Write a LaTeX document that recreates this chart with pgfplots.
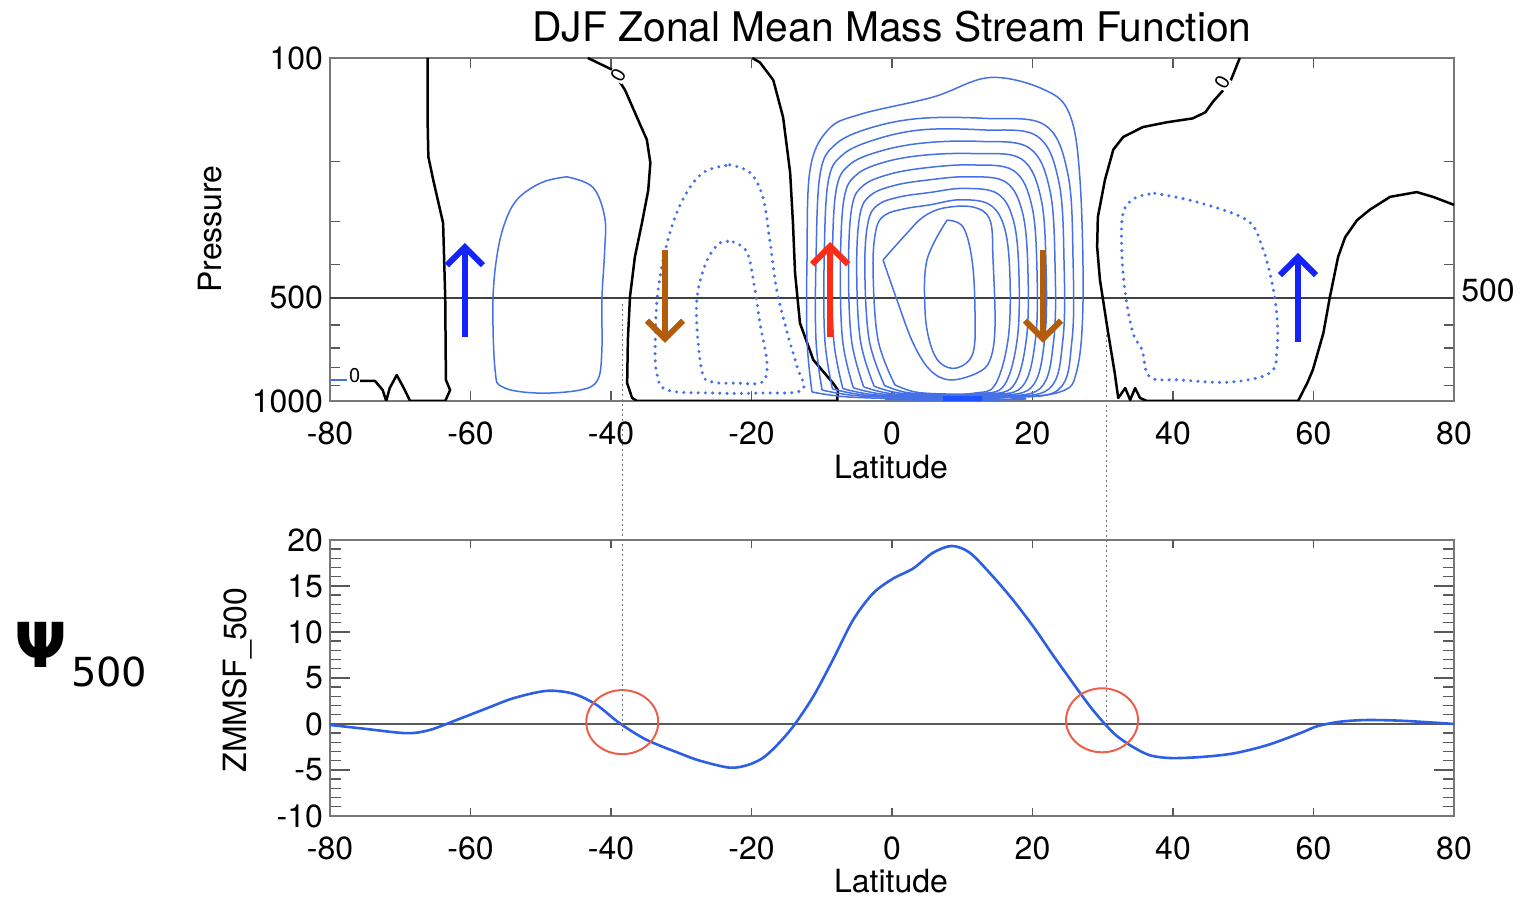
\documentclass[border=0pt]{standalone}
\usepackage{pgfplots}
\pgfplotsset{compat=1.18}
\usepackage{fontspec}
\setmainfont{TeX Gyre Heros}
\newfontfamily\psifont{DejaVu Sans}
\usetikzlibrary{arrows.meta}

\definecolor{cblue}{RGB}{70,112,230}
\definecolor{lblue}{RGB}{45,95,228}
\definecolor{blob}{RGB}{30,80,255}
\definecolor{arblue}{RGB}{20,35,250}
\definecolor{arred}{RGB}{250,45,25}
\definecolor{arbrown}{RGB}{178,92,12}
\definecolor{framegray}{RGB}{120,120,120}
\definecolor{circred}{RGB}{236,95,75}

\pgfplotsset{
  panel/.style={
    scale only axis, width=562pt,
    xmin=-80, xmax=80, xtick={-80,-60,...,80},
    tick align=inside,
    axis line style={framegray, line width=0.9pt},
    tick style={black!65, line width=0.7pt},
    ticklabel style={font=\fontsize{16}{16}\selectfont},
    xticklabel style={anchor=base, yshift=-22pt},
    /pgf/number format/assume math mode=true,
  },
  cont/.style={cblue, line width=0.75pt, smooth, tension=0.6},
  dots/.style={cblue, line width=1.7pt, line cap=round, dash pattern=on 0pt off 3.6pt, smooth, tension=0.6},
  zero/.style={black, line width=1.25pt, line join=round},
  arr/.style={line width=3pt, -{Straight Barb[length=9pt,width=18pt]}},
}

\begin{document}
\begin{tikzpicture}
\path[use as bounding box] (0,0) rectangle (761pt,449pt);

% ---------------- top panel: stream function contours
\begin{axis}[panel,
  at={(165pt,248.5pt)}, anchor=south west, height=171.5pt,
  ymode=log, y dir=reverse, ymin=100, ymax=1000,
  ytick={100,200,300,400,500,600,700,800,900,1000},
  yticklabels={100,,,,500,,,,,1000},
  major tick length=5pt,
]
\addplot[black!75, line width=0.8pt] coordinates {(-80,500) (80,500)};

% zero lines
\addplot[zero] coordinates {(-75.7,874) (-73.6,874) (-72.5,929) (-72.0,1000) (-71.5,917) (-70.5,840) (-69.5,917) (-68.6,1000) (-63.6,1000) (-62.9,929) (-63.5,868) (-63.6,497) (-63.9,303) (-65.3,227) (-66.0,194) (-66.1,155) (-66.1,100)};
\addplot[zero] coordinates {(-43.3,100) (-39.9,108) (-38.0,124) (-36.3,149) (-34.9,173) (-34.4,202) (-34.7,243) (-35.6,303) (-36.6,380) (-37.3,497) (-37.6,664) (-37.7,887) (-37.0,980) (-36.3,1000) (-7.8,1000) (-7.7,929) (-8.4,887) (-11.2,759) (-13.1,593) (-13.8,424) (-14.1,303) (-14.5,216) (-15.5,149) (-16.9,116) (-18.8,103) (-19.9,100)};
\addplot[zero] coordinates {(49.5,100) (48.1,118) (45.7,134) (44.6,144) (42.8,150) (39.1,154) (35.7,159) (32.9,170) (31.5,185) (30.3,227) (29.3,291) (29.2,356) (29.6,444) (30.0,501) (30.7,621) (31.7,828) (32.2,980) (33.2,917) (33.9,993) (34.6,917) (35.3,980) (36.3,1000) (57.8,1000) (59.1,887) (59.9,812) (61.4,634) (62.3,501) (63.5,380) (64.5,333) (66.2,297) (68.0,277) (70.9,254) (74.7,246) (77.0,254) (80.0,268)};
\addplot[cblue, line width=0.75pt] coordinates {(-80,870) (-77.6,870)};

% southern positive cell
\addplot[cont] coordinates {(-46.3,222) (-42.6,238) (-40.9,291) (-40.9,363) (-41.3,508) (-41.3,710) (-41.9,868) (-44.4,929) (-50.5,948) (-55.4,911) (-56.5,812) (-56.8,508) (-56.1,363) (-54.8,291) (-53.0,254) (-49.7,230) (-46.3,222)};

% negative (dotted) cells
\addplot[dots] coordinates {(-23.1,205) (-20.2,216) (-18.4,254) (-17.4,339) (-16.4,475) (-14.9,634) (-13.5,796) (-12.8,929) (-18.4,948) (-25.5,948) (-32.0,929) (-33.5,828) (-33.7,664) (-33.3,475) (-31.9,339) (-29.8,259) (-26.9,216) (-23.1,205)};
\addplot[dots] coordinates {(-22.6,344) (-20.6,370) (-19.5,475) (-18.8,593) (-17.8,775) (-18.5,881) (-22.1,887) (-25.5,881) (-27.0,828) (-27.8,593) (-27.6,475) (-26.3,388) (-24.5,346) (-22.6,344)};
\addplot[dots] coordinates {(37.4,248) (43.4,263) (50.5,297) (52.7,356) (54.1,453) (54.8,569) (54.8,710) (53.8,828) (48.1,881) (41.0,868) (36.7,851) (35.6,710) (34.3,634) (33.2,484) (32.7,363) (32.9,283) (34.6,256) (37.4,248)};

% Hadley cell
\addplot[cont] coordinates {(-11.39,941) (-12.10,664) (-12.10,388) (-11.67,212) (-9.11,162) (-4.56,146) (5.84,130) (13.95,114) (21.78,124) (25.34,147) (26.76,227) (27.19,508) (26.33,812) (23.91,941) (15.37,980) (5.41,987) (-5.98,974) (-11.39,941)};
\addplot[cont] coordinates {(-9.96,929) (-10.82,664) (-10.82,388) (-10.25,219) (-8.11,179) (-3.13,160) (3.99,150) (13.24,150) (21.78,157) (25.05,219) (25.77,388) (25.62,664) (23.63,929) (15.37,974) (6.12,980) (-4.56,967) (-9.96,929)};
\addplot[cont] coordinates {(-8.48,922) (-9.56,664) (-9.66,392) (-9.11,231) (-7.09,192) (-2.42,173) (4.19,162) (12.73,162) (20.66,169) (23.77,231) (24.49,396) (24.32,664) (22.35,922) (14.86,970) (6.32,976) (-3.44,963) (-8.48,922)};
\addplot[cont] coordinates {(-6.99,920) (-8.30,664) (-8.50,396) (-7.97,244) (-6.08,205) (-1.71,187) (4.40,177) (12.22,175) (19.54,183) (22.49,244) (23.21,403) (23.02,664) (21.07,920) (14.35,966) (6.53,973) (-2.32,960) (-6.99,920)};
\addplot[cont] coordinates {(-5.51,915) (-7.04,664) (-7.34,400) (-6.83,257) (-5.06,219) (-1.00,201) (4.60,192) (11.71,190) (18.42,197) (21.21,257) (21.93,411) (21.72,664) (19.79,915) (13.84,962) (6.73,969) (-1.20,956) (-5.51,915)};
\addplot[cont] coordinates {(-4.02,910) (-5.77,664) (-6.19,403) (-5.70,271) (-4.04,235) (-0.28,218) (4.80,209) (11.21,205) (17.31,213) (19.92,271) (20.64,419) (20.41,664) (18.50,910) (13.34,958) (6.93,965) (-0.09,952) (-4.02,910)};
\addplot[cont] coordinates {(-2.54,906) (-4.51,664) (-5.03,407) (-4.56,286) (-3.02,251) (0.43,235) (5.00,227) (10.70,222) (16.19,230) (18.64,286) (19.36,427) (19.11,664) (17.22,906) (12.83,955) (7.13,961) (1.03,948) (-2.54,906)};
\addplot[cont] coordinates {(-1.05,902) (-3.25,664) (-3.87,411) (-3.42,302) (-2.01,268) (1.14,254) (5.21,247) (10.19,240) (15.07,249) (17.36,302) (18.08,435) (17.81,664) (15.94,902) (12.32,952) (7.34,958) (2.15,945) (-1.05,902)};
\addplot[cont] coordinates {(0.43,898) (-1.99,664) (-2.70,415) (-2.28,317) (-1.00,287) (1.85,275) (5.41,268) (9.68,259) (13.95,268) (16.09,317) (16.80,444) (16.51,664) (14.66,898) (11.81,948) (7.54,954) (3.27,941) (0.43,898)};
\addplot[cont] coordinates {(-1.28,388) (2.14,324) (4.41,291) (7.26,274) (11.53,272) (13.95,297) (14.38,388) (14.66,608) (13.95,759) (12.10,829) (8.26,868) (5.41,812) (2.99,677) (0.71,508) (-1.28,388)};
\addplot[cont] coordinates {(7.83,297) (10.11,311) (11.39,388) (11.81,543) (11.53,724) (9.25,801) (6.83,774) (5.41,677) (4.70,543) (4.98,388) (7.83,297)};
\addplot[cont] coordinates {(-1,990) (3,976) (9,969) (15,973) (19,986) (13,993) (5,994) (-1,990)};
\addplot[cont] coordinates {(3,992) (7,983) (10,981) (13,984) (16,991) (10,996) (3,992)};
\addplot[blob, line width=3pt] coordinates {(7.2,988) (12.8,988)};

% circulation arrows
\addplot[arr, arblue] coordinates {(-60.8,650) (-60.8,346)};
\addplot[arr, arbrown] coordinates {(-32.3,363) (-32.3,677)};
\addplot[arr, arred] coordinates {(-8.8,650) (-8.8,344)};
\addplot[arr, arbrown] coordinates {(21.5,363) (21.5,677)};
\addplot[arr, arblue] coordinates {(57.8,673) (57.8,370)};

\node[font=\fontsize{10}{10}\selectfont, fill=white, inner sep=0.3pt, rotate=60] at (axis cs:-39.0,112) {0};
\node[font=\fontsize{10}{10}\selectfont, fill=white, inner sep=0.3pt, rotate=60] at (axis cs:47.0,118) {0};
\node[font=\fontsize{10}{10}\selectfont, inner sep=0.3pt] at (axis cs:-76.5,845) {0};

\coordinate (dA) at (axis cs:-38.4,520);
\coordinate (dB) at (axis cs:30.5,620);
\end{axis}

% ---------------- bottom panel: psi at 500 hPa
\begin{axis}[panel,
  at={(165pt,41pt)}, anchor=south west, height=138pt,
  ymin=-10, ymax=20, ytick={-10,-5,...,20}, minor y tick num=4,
  major tick length=10pt, minor tick length=5.5pt,
  xtick style={draw=none},
]
\addplot[black!65, line width=0.9pt] coordinates {(-80,0) (80,0)};
\addplot[lblue, line width=1.3pt, smooth, tension=0.5] coordinates {
  (-80,-0.1) (-75.3,-0.5) (-69.1,-1.0) (-65.8,-0.65) (-62.0,0.43) (-57.7,1.7)
  (-53.9,2.8) (-49.2,3.6) (-45.4,3.3) (-42.1,2.1) (-38.8,0.1) (-35.0,-1.7)
  (-30.2,-3.2) (-27.3,-4.0) (-23.1,-4.75) (-20.5,-4.45) (-18.4,-3.7) (-16.5,-2.4)
  (-14.1,-0.3) (-11.2,3.0)
  (-8.4,7.0) (-5.55,11.3) (-2.7,14.2) (0.14,15.8) (3.0,16.9) (5.8,18.6)
  (8.5,19.35) (11.1,18.6) (14.4,16.0) (17.2,13.5) (20.1,10.6) (22.9,7.5)
  (25.8,4.4) (28.2,1.9) (30.3,0.0) (32.0,-1.3) (34.3,-2.5) (36.7,-3.4)
  (39.6,-3.7) (43.8,-3.6) (48.6,-3.2) (53.4,-2.3) (58.1,-1.0) (60.5,-0.25)
  (63.8,0.25) (67.6,0.43) (72.3,0.36) (77.1,0.15) (80,0.0)
};
\pgfplotsinvokeforeach{-60,-40,...,60}{
  \draw[black!65, line width=0.7pt] (axis cs:#1,-10) -- ++(0pt,4pt);
  \draw[black!65, line width=0.7pt] (axis cs:#1,20) -- ++(0pt,-4pt);
}
\draw[circred, line width=1pt] (axis cs:-38.4,0.2) ellipse (18pt and 16pt);
\draw[circred, line width=1pt] (axis cs:29.9,0.4) ellipse (18pt and 16pt);
\coordinate (dC) at (axis cs:-38.4,-1.0);
\coordinate (dD) at (axis cs:30.5,0.3);
\end{axis}

\draw[black!55, line width=0.5pt, dash pattern=on 1pt off 1.5pt] (dA) -- (dC);
\draw[black!55, line width=0.5pt, dash pattern=on 1pt off 1.5pt] (dB) -- (dD);

% titles and labels
\node[anchor=base, font=\fontsize{20.4}{20}\selectfont] at (446pt,428pt) {DJF Zonal Mean Mass Stream Function};
\node[font=\fontsize{16}{16}\selectfont] at (445.5pt,215.5pt) {Latitude};
\node[font=\fontsize{16}{16}\selectfont] at (445.5pt,8.5pt) {Latitude};
\node[font=\fontsize{16}{16}\selectfont, rotate=90] at (105pt,334.5pt) {Pressure};
\node[font=\fontsize{16}{16}\selectfont, rotate=90] at (118.5pt,109pt) {ZMMSF\_500};
\node[font=\fontsize{16}{16}\selectfont] at (744pt,304pt) {500};
\node[anchor=base west, inner sep=0pt] at (7pt,115pt) {\psifont\fontsize{31}{31}\selectfont\bfseries Ψ\hspace{2pt}\raisebox{-9.5pt}{\fontsize{20}{20}\selectfont\mdseries 500}};
\end{tikzpicture}
\end{document}
